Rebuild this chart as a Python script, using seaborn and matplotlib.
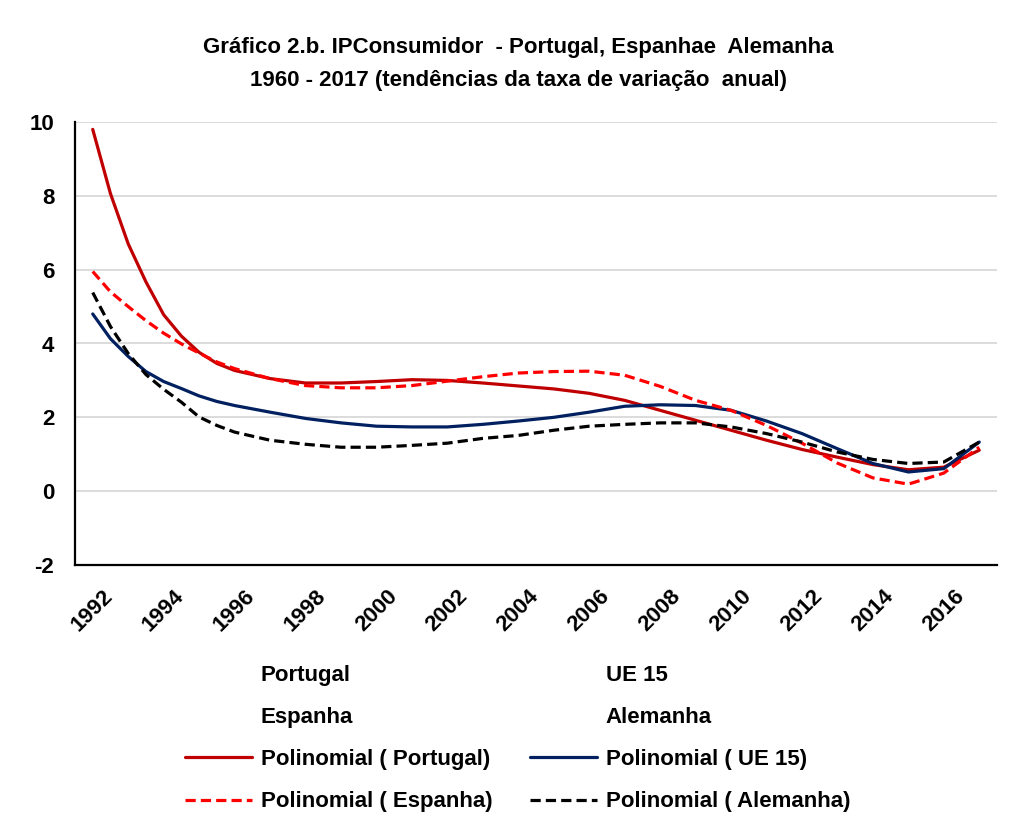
import numpy as np
import pandas as pd
import matplotlib
matplotlib.use("Agg")
import matplotlib.pyplot as plt
from matplotlib.lines import Line2D
import seaborn as sns

years = [1992, 1992.5, 1993, 1993.5, 1994, 1994.5, 1995, 1995.5, 1996,
         1997, 1998, 1999, 2000, 2001, 2002, 2003, 2004, 2005, 2006, 2007,
         2008, 2009, 2010, 2011, 2012, 2013, 2014, 2015, 2016, 2017]
portugal = [9.8, 8.06, 6.7, 5.67, 4.78, 4.2, 3.76, 3.46, 3.27,
            3.05, 2.93, 2.93, 2.97, 3.02, 3.0, 2.93, 2.85, 2.77, 2.65, 2.46,
            2.19, 1.92, 1.65, 1.38, 1.13, 0.92, 0.72, 0.58, 0.65, 1.11]
espanha = [5.95, 5.4, 5.0, 4.62, 4.28, 3.99, 3.74, 3.5, 3.32,
           3.05, 2.86, 2.8, 2.8, 2.86, 2.98, 3.1, 3.2, 3.24, 3.25, 3.14,
           2.84, 2.46, 2.19, 1.78, 1.3, 0.76, 0.36, 0.19, 0.49, 1.19]
ue15 = [4.8, 4.13, 3.65, 3.24, 2.97, 2.78, 2.58, 2.43, 2.32,
        2.14, 1.97, 1.85, 1.76, 1.74, 1.74, 1.81, 1.9, 2.0, 2.14, 2.3,
        2.34, 2.32, 2.19, 1.9, 1.56, 1.15, 0.75, 0.52, 0.61, 1.33]
alemanha = [5.38, 4.46, 3.73, 3.16, 2.76, 2.41, 2.01, 1.78, 1.6,
            1.38, 1.27, 1.19, 1.19, 1.24, 1.3, 1.43, 1.51, 1.65, 1.76, 1.81,
            1.85, 1.85, 1.74, 1.56, 1.33, 1.06, 0.86, 0.75, 0.79, 1.33]

series_names = ["Portugal", "UE 15", "Espanha", "Alemanha"]
series_values = [portugal, ue15, espanha, alemanha]
series_colors = ["#C00000", "#002060", "#FF0000", "#000000"]
series_dashed = [False, False, True, True]
y_ticks = [-2, 0, 2, 4, 6, 8, 10]
x_ticks = list(range(1992, 2017, 2))

title_text = ("Gráfico 2.b. IPConsumidor  - Portugal, Espanhae  Alemanha\n"
              "1960 - 2017 (tendências da taxa de variação  anual)")

sns.set_theme(style="white")
plt.rcParams['font.family'] = ['Liberation Sans', 'DejaVu Sans']
plt.rcParams['font.weight'] = 'bold'
plt.rcParams['text.color'] = 'black'
plt.rcParams['xtick.color'] = 'black'
plt.rcParams['ytick.color'] = 'black'

fig = plt.figure(figsize=(10.16, 8.22), dpi=100)
ax = fig.add_axes([75/1016, 1-565/822, (997-75)/1016, (565-122)/822])

lw = 2.3
dash = (3.2, 1.6)
for name, vals, col, dsh in zip(series_names, series_values, series_colors, series_dashed):
    df = pd.DataFrame({"year": years, "value": vals})
    sns.lineplot(data=df, x="year", y="value", ax=ax, color=col, linewidth=lw)
    line = ax.lines[-1]
    if dsh:
        line.set_dashes(dash)

ax.set_xlim(1991.5, 2017.5)
ax.set_ylim(-2, 10)
ax.set_yticks(y_ticks)
ax.set_yticklabels([str(t) for t in y_ticks], fontsize=16, fontweight='bold')
ax.set_xticks(x_ticks)
ax.set_xticklabels([str(t) for t in x_ticks], rotation=45, ha='center', va='top',
                   fontsize=16, fontweight='bold')
ax.tick_params(axis='y', length=0, pad=15)
ax.tick_params(axis='x', length=0, pad=15)
ax.set_xlabel("")
ax.set_ylabel("")
ax.grid(axis='y', color='#D9D9D9', linewidth=1.3)
ax.set_axisbelow(True)
for s in ['top', 'right']:
    ax.spines[s].set_visible(False)
for s in ['left', 'bottom']:
    ax.spines[s].set_color('black')
    ax.spines[s].set_linewidth(1.6)

fig.text(518/1016, 1-64/822, title_text, ha='center', va='center',
         fontsize=16, fontweight='bold', linespacing=1.7)

def mk(col, dsh, visible=True):
    h = Line2D([], [], color=col if visible else 'none', linewidth=lw)
    if dsh:
        h.set_dashes(dash)
    return h

handles = [
    mk("#C00000", False, False), mk("#FF0000", False, False),
    mk("#C00000", False), mk("#FF0000", True),
    mk("#002060", False, False), mk("#000000", False, False),
    mk("#002060", False), mk("#000000", True),
]
labels = [
    "Portugal", "Espanha", "Polinomial ( Portugal)", "Polinomial ( Espanha)",
    "UE 15", "Alemanha", "Polinomial ( UE 15)", "Polinomial ( Alemanha)",
]
fig.legend(handles, labels, ncol=2, loc='upper left',
           bbox_to_anchor=(165/1016, 1-645/822), frameon=False,
           prop={'size': 16, 'weight': 'bold'}, handlelength=3.0,
           handletextpad=0.4, labelspacing=0.95, columnspacing=1.7)

fig.savefig("out.png", dpi=100, facecolor='white')
